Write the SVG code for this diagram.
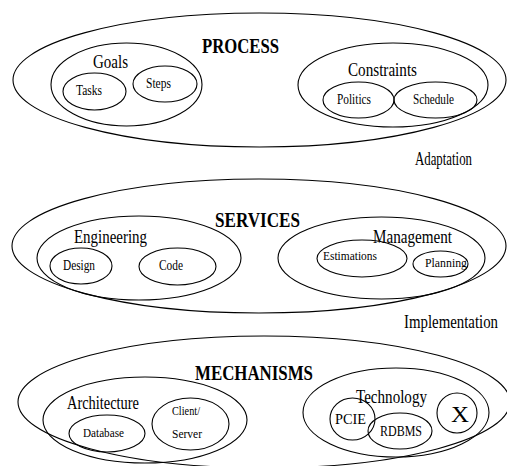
<svg xmlns="http://www.w3.org/2000/svg" width="507" height="466" viewBox="0 0 507 466">
<style>
ellipse, circle { fill: none; stroke: #000; stroke-width: 1.1; }
text { font-family: "Liberation Serif", "Times New Roman", serif; fill: #000; }
.t { font-size: 22px; font-weight: bold; }
.m { font-size: 19px; }
.s { font-size: 14px; }
.xs { font-size: 13px; }
.lbl { font-size: 18px; }
</style>
<rect width="507" height="466" fill="#fff"/>
<g id="process">
  <ellipse cx="259.5" cy="80" rx="246.5" ry="67"/>
  <text class="t" x="202" y="53" textLength="77" lengthAdjust="spacingAndGlyphs">PROCESS</text>
</g>
<g id="goals">
  <ellipse cx="126.5" cy="84.5" rx="75.5" ry="41.5"/>
  <text class="m" x="93" y="68" textLength="35" lengthAdjust="spacingAndGlyphs">Goals</text>
</g>
<g id="tasks">
  <ellipse cx="94.5" cy="91.5" rx="31.5" ry="18.5"/>
  <text class="s" x="76" y="95" textLength="26" lengthAdjust="spacingAndGlyphs">Tasks</text>
</g>
<g id="steps">
  <ellipse cx="165" cy="84" rx="32" ry="18"/>
  <text class="s" x="146" y="88" textLength="25" lengthAdjust="spacingAndGlyphs">Steps</text>
</g>
<g id="constraints">
  <ellipse cx="393" cy="85" rx="95" ry="42"/>
  <text class="m" x="348" y="76" textLength="69" lengthAdjust="spacingAndGlyphs">Constraints</text>
</g>
<g id="politics">
  <ellipse cx="358.5" cy="100" rx="35.5" ry="18"/>
  <text class="s" x="337" y="104" textLength="34" lengthAdjust="spacingAndGlyphs">Politics</text>
</g>
<g id="schedule">
  <ellipse cx="435.5" cy="100" rx="41.5" ry="18"/>
  <text class="s" x="413" y="104" textLength="41" lengthAdjust="spacingAndGlyphs">Schedule</text>
</g>
<g id="adaptation">
  <text class="lbl" x="415" y="165" textLength="57" lengthAdjust="spacingAndGlyphs">Adaptation</text>
</g>
<g id="services">
  <ellipse cx="259" cy="246" rx="247" ry="67"/>
  <text class="t" x="215" y="227" textLength="85" lengthAdjust="spacingAndGlyphs">SERVICES</text>
</g>
<g id="engineering">
  <ellipse cx="139" cy="258" rx="102" ry="42"/>
  <text class="m" x="74" y="243" textLength="73" lengthAdjust="spacingAndGlyphs">Engineering</text>
</g>
<g id="design">
  <ellipse cx="81" cy="266" rx="31" ry="18"/>
  <text class="s" x="63" y="270" textLength="32" lengthAdjust="spacingAndGlyphs">Design</text>
</g>
<g id="code">
  <ellipse cx="177.5" cy="266.5" rx="38.5" ry="18.5"/>
  <text class="s" x="159" y="270" textLength="24" lengthAdjust="spacingAndGlyphs">Code</text>
</g>
<g id="management">
  <ellipse cx="381.5" cy="258" rx="103.5" ry="41"/>
  <text class="m" x="373" y="243" textLength="79" lengthAdjust="spacingAndGlyphs">Management</text>
</g>
<g id="estimations">
  <ellipse cx="362" cy="258.5" rx="45" ry="18.5"/>
  <text class="xs" x="323" y="260" textLength="54" lengthAdjust="spacingAndGlyphs">Estimations</text>
</g>
<g id="planning">
  <ellipse cx="440.5" cy="264" rx="27.5" ry="13"/>
  <text class="xs" x="425" y="267" textLength="42" lengthAdjust="spacingAndGlyphs">Planning</text>
</g>
<g id="implementation">
  <text class="lbl" x="404" y="328" textLength="94" lengthAdjust="spacingAndGlyphs">Implementation</text>
</g>
<g id="mechanisms">
  <ellipse cx="264" cy="402" rx="246" ry="66"/>
  <text class="t" x="195" y="380" textLength="118" lengthAdjust="spacingAndGlyphs">MECHANISMS</text>
</g>
<g id="architecture">
  <ellipse cx="145" cy="420" rx="102" ry="43"/>
  <text class="m" x="67" y="409" textLength="72" lengthAdjust="spacingAndGlyphs">Architecture</text>
</g>
<g id="database">
  <ellipse cx="107" cy="433.5" rx="38" ry="18.5"/>
  <text class="xs" x="83" y="437" textLength="41" lengthAdjust="spacingAndGlyphs">Database</text>
</g>
<g id="client-server">
  <ellipse cx="190.5" cy="424" rx="38.5" ry="26"/>
  <text class="xs" x="172" y="415" textLength="28" lengthAdjust="spacingAndGlyphs">Client/</text>
  <text class="xs" x="172" y="438" textLength="30" lengthAdjust="spacingAndGlyphs">Server</text>
</g>
<g id="technology">
  <ellipse cx="396" cy="412.5" rx="93" ry="44.5"/>
  <text class="m" x="356" y="403" textLength="71" lengthAdjust="spacingAndGlyphs">Technology</text>
</g>
<g id="pcie">
  <ellipse cx="352.5" cy="419" rx="22.5" ry="21"/>
  <text class="s" x="335" y="424" textLength="31" lengthAdjust="spacingAndGlyphs">PCIE</text>
</g>
<g id="rdbms">
  <ellipse cx="400" cy="431" rx="32" ry="18"/>
  <text class="s" x="380" y="436" textLength="42" lengthAdjust="spacingAndGlyphs">RDBMS</text>
</g>
<g id="x">
  <circle cx="457" cy="413" r="20"/>
  <text x="451" y="422" font-size="24" textLength="18" lengthAdjust="spacingAndGlyphs">X</text>
</g>
<g id="connectors"></g>
</svg>
